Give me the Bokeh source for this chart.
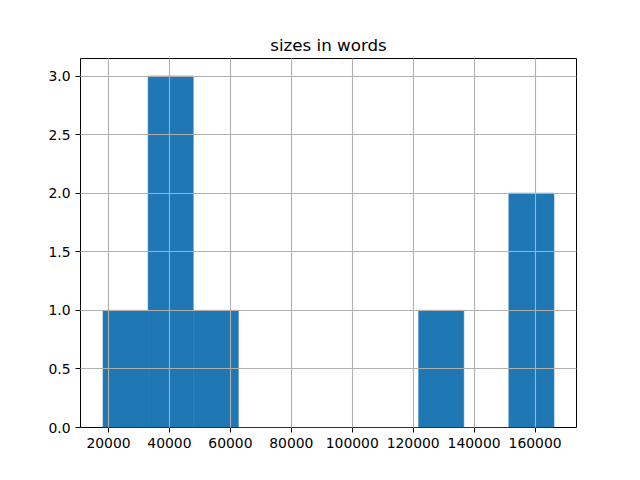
from bokeh.plotting import figure
from bokeh.models import Range1d, FixedTicker, NumeralTickFormatter
from bokeh.embed import file_html
from bokeh.resources import INLINE

# Histogram of sizes in words (10 bins)
bin_edges = [18200, 33000, 47800, 62600, 77400, 92200, 107000, 121800, 136600, 151400, 166200]
counts = [1, 3, 1, 0, 0, 0, 0, 1, 0, 2]
x_ticks = [20000, 40000, 60000, 80000, 100000, 120000, 140000, 160000]
y_ticks = [0.0, 0.5, 1.0, 1.5, 2.0, 2.5, 3.0]
title_text = "sizes in words"

p = figure(width=624, height=464, output_backend="svg", toolbar_location=None,
           x_range=Range1d(10800, 173600), y_range=Range1d(0, 3.15),
           min_border_left=80, min_border_right=48, min_border_top=58, min_border_bottom=37)

p.quad(left=bin_edges[:-1], right=bin_edges[1:], bottom=[0] * len(counts), top=counts,
       fill_color="#1f77b4", line_color="#1f77b4", line_width=0.6)

p.title.text = title_text
p.title.align = "center"
p.title.text_font = "DejaVu Sans"
p.title.text_font_size = "16.7px"
p.title.text_font_style = "normal"
p.title.text_color = "black"
p.title.standoff = 7

p.outline_line_color = "black"
p.outline_line_width = 1
p.outline_line_alpha = 1

for ax in (p.xaxis[0], p.yaxis[0]):
    ax.axis_line_color = None
    ax.major_tick_line_color = "black"
    ax.major_tick_line_width = 1
    ax.major_tick_out = 5
    ax.major_tick_in = 0
    ax.minor_tick_line_color = None
    ax.major_label_text_font = "DejaVu Sans"
    ax.major_label_text_font_size = "13.9px"
    ax.major_label_text_color = "black"
    ax.major_label_standoff = 5

p.xaxis[0].ticker = FixedTicker(ticks=x_ticks)
p.xaxis[0].formatter = NumeralTickFormatter(format="0")
p.yaxis[0].ticker = FixedTicker(ticks=y_ticks)
p.yaxis[0].formatter = NumeralTickFormatter(format="0.0")

for g in (p.xgrid[0], p.ygrid[0]):
    g.grid_line_color = "#b0b0b0"
    g.grid_line_width = 1.1
    g.level = "guide"
p.xgrid[0].ticker = FixedTicker(ticks=x_ticks)
p.ygrid[0].ticker = FixedTicker(ticks=y_ticks)

open("out.html", "w").write(file_html(p, INLINE))
